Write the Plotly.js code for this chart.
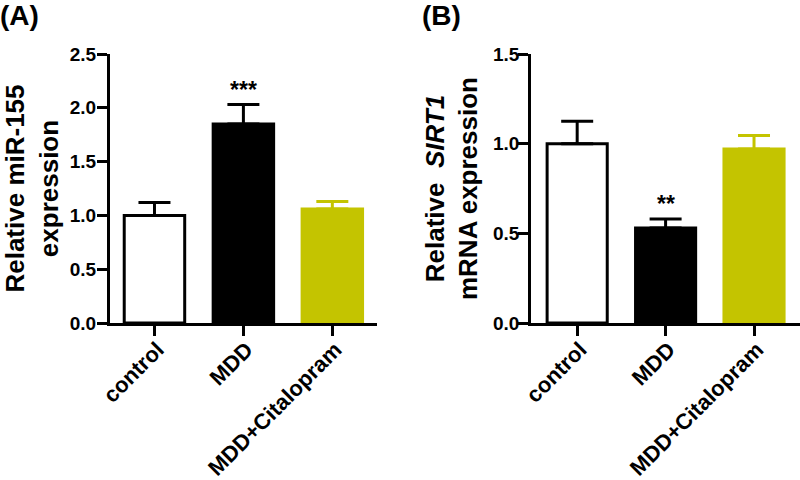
<!DOCTYPE html>
<html>
<head>
<meta charset="utf-8">
<script src="https://cdn.plot.ly/plotly-3.0.1.min.js"></script>
<style>html,body{margin:0;padding:0;background:#fff;}#chart{width:800px;height:480px;}</style>
</head>
<body>
<div id="chart"></div>
<script>
const categories = ["control", "MDD", "MDD+Citalopram"];
const barColors = ["#ffffff", "#000000", "#c4c400"];
const lineColors = ["#000000", "#000000", "#c4c400"];

const miR155Mean = [1.00, 1.85, 1.06];
const miR155Err = [0.12, 0.18, 0.07];
const miR155Sig = ["", "***", ""];

const sirt1Mean = [1.00, 0.53, 0.97];
const sirt1Err = [0.125, 0.05, 0.075];
const sirt1Sig = ["", "**", ""];

const FONT = "Liberation Sans, Arial, sans-serif";

function panelTraces(means, errs, xa, ya, bw) {
  return categories.map((c, i) => ({
    type: "bar",
    x: [c],
    y: [means[i]],
    xaxis: xa,
    yaxis: ya,
    width: bw,
    marker: {color: barColors[i], line: {color: lineColors[i], width: 3}},
    error_y: {type: "data", symmetric: false, array: [errs[i]], arrayminus: [0],
              color: lineColors[i], thickness: 3, width: 16},
    showlegend: false,
    hoverinfo: "skip"
  }));
}

const data = [].concat(
  panelTraces(miR155Mean, miR155Err, "x", "y", 0.68),
  panelTraces(sirt1Mean, sirt1Err, "x2", "y2", 0.68)
);

const yDom = [0.327, 0.8875];
const axisCommon = {
  showline: true, linecolor: "#000", linewidth: 3, ticks: "outside",
  ticklen: 10, tickwidth: 3, tickcolor: "#000", showgrid: false, zeroline: false,
  tickfont: {family: FONT, size: 19, color: "#000", weight: "bold"}
};
const xTickFont = {family: FONT, size: 22, color: "#000", weight: "bold"};

const annotations = [
  {text: "<b>(A)</b>", xref: "paper", yref: "paper", x: -0.003, y: 1.005, xanchor: "left", yanchor: "top",
   showarrow: false, font: {family: FONT, size: 28, color: "#000"}},
  {text: "<b>(B)</b>", xref: "paper", yref: "paper", x: 0.525, y: 1.005, xanchor: "left", yanchor: "top",
   showarrow: false, font: {family: FONT, size: 28, color: "#000"}}
];
categories.forEach((c, i) => {
  if (miR155Sig[i]) annotations.push({text: "<b>" + miR155Sig[i] + "</b>", xref: "x", yref: "y",
    x: c, y: miR155Mean[i] + miR155Err[i], yanchor: "bottom", yshift: 0, showarrow: false,
    font: {family: FONT, size: 23, color: "#000"}});
  if (sirt1Sig[i]) annotations.push({text: "<b>" + sirt1Sig[i] + "</b>", xref: "x2", yref: "y2",
    x: c, y: sirt1Mean[i] + sirt1Err[i], yanchor: "bottom", yshift: 0, showarrow: false,
    font: {family: FONT, size: 23, color: "#000"}});
});

const xExtra = {tickangle: -45, type: "category", tickfont: xTickFont,
  ticklabelstandoff: -8, ticklabelshift: 3};

const layout = {
  width: 800, height: 480,
  margin: {l: 0, r: 0, t: 0, b: 0},
  paper_bgcolor: "#fff", plot_bgcolor: "#fff",
  barmode: "overlay",
  font: {family: FONT, color: "#000"},
  xaxis: Object.assign({}, axisCommon, xExtra, {domain: [0.1375, 0.471], anchor: "y",
    range: [-0.5, 2.5]}),
  yaxis: Object.assign({}, axisCommon, {domain: yDom, anchor: "x", range: [0, 2.5],
    tickvals: [0, 0.5, 1, 1.5, 2, 2.5], ticktext: ["0.0", "0.5", "1.0", "1.5", "2.0", "2.5"],
    ticklabelstandoff: -3,
    title: {text: "<b>Relative miR-155<br>expression</b>", standoff: 12,
      font: {family: FONT, size: 26, color: "#000"}}}),
  xaxis2: Object.assign({}, axisCommon, xExtra, {domain: [0.664, 1.0], anchor: "y2",
    range: [-0.52, 2.52]}),
  yaxis2: Object.assign({}, axisCommon, {domain: yDom, anchor: "x2", range: [0, 1.5],
    tickvals: [0, 0.5, 1, 1.5], ticktext: ["0.0", "0.5", "1.0", "1.5"],
    ticklabelstandoff: -5,
    title: {text: "<b>Relative  <i>SIRT1</i><br>mRNA expression</b>", standoff: 8,
      font: {family: FONT, size: 26, color: "#000"}}}),
  annotations: annotations
};

Plotly.newPlot("chart", data, layout, {staticPlot: true, displayModeBar: false});
</script>
</body>
</html>
